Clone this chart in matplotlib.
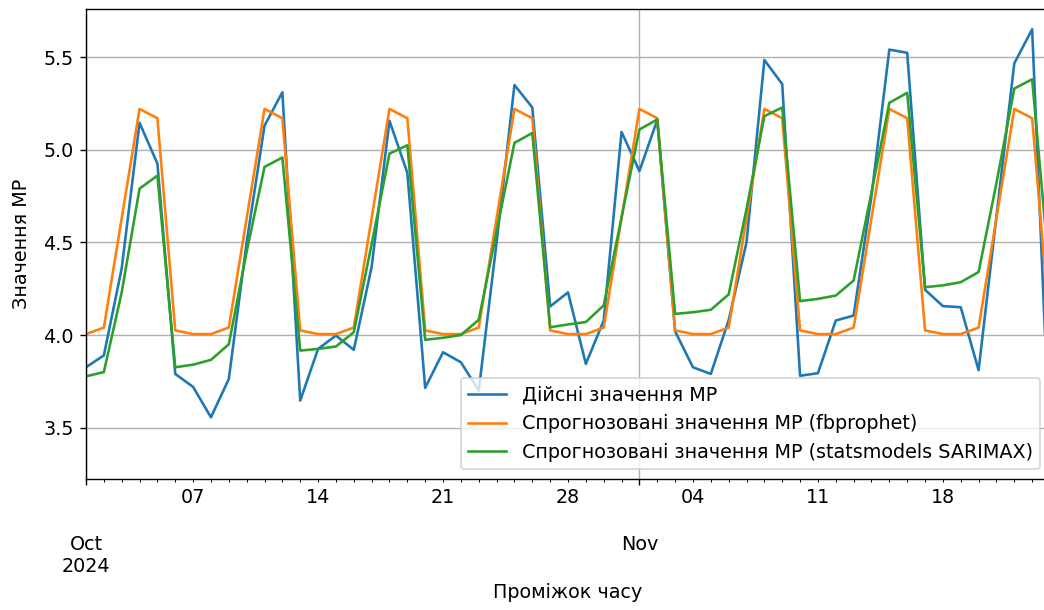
import matplotlib
matplotlib.use("Agg")
import matplotlib.pyplot as plt
import pandas as pd

start_date = "2024-10-01"

actual = [3.826, 3.89, 4.36, 5.145, 4.925, 3.79, 3.72, 3.556, 3.763, 4.50,
          5.13, 5.31, 3.646, 3.925, 3.997, 3.92, 4.367, 5.156, 4.875, 3.715,
          3.907, 3.853, 3.70, 4.50, 5.349, 5.228, 4.154, 4.23, 3.844, 4.078,
          5.096, 4.885, 5.16, 4.02, 3.826, 3.79, 4.08, 4.50, 5.484, 5.354,
          3.78, 3.794, 4.078, 4.105, 4.75, 5.54, 5.523, 4.244, 4.156, 4.15,
          3.81, 4.64, 5.466, 5.65, 3.36]

prophet = [4.005, 4.04, 4.63, 5.22, 5.17, 4.025, 4.005, 4.005, 4.04, 4.63,
           5.22, 5.17, 4.025, 4.005, 4.005, 4.04, 4.63, 5.22, 5.17, 4.025,
           4.005, 4.005, 4.04, 4.63, 5.22, 5.17, 4.025, 4.005, 4.005, 4.04,
           4.63, 5.22, 5.17, 4.025, 4.005, 4.005, 4.04, 4.63, 5.22, 5.17,
           4.025, 4.005, 4.005, 4.04, 4.63, 5.22, 5.17, 4.025, 4.005, 4.005,
           4.04, 4.63, 5.22, 5.17, 4.025]

sarimax = [3.777, 3.80, 4.23, 4.79, 4.86, 3.826, 3.84, 3.866, 3.95, 4.45,
           4.907, 4.958, 3.916, 3.925, 3.938, 4.015, 4.49, 4.979, 5.024, 3.974,
           3.985, 4.0, 4.082, 4.56, 5.037, 5.09, 4.042, 4.057, 4.07, 4.16,
           4.635, 5.109, 5.163, 4.114, 4.123, 4.136, 4.219, 4.68, 5.181, 5.228,
           4.183, 4.195, 4.213, 4.294, 4.77, 5.253, 5.307, 4.258, 4.268, 4.285,
           4.34, 4.82, 5.33, 5.38, 4.30]

labels = ["Дійсні значення МР",
          "Спрогнозовані значення МР (fbprophet)",
          "Спрогнозовані значення МР (statsmodels SARIMAX)"]

plt.rcParams["font.size"] = 11

dates = pd.date_range(start_date, periods=len(actual), freq="D")
df = pd.DataFrame({labels[0]: actual, labels[1]: prophet, labels[2]: sarimax},
                  index=dates)

fig = plt.figure(figsize=(1044 / 125, 610 / 125), dpi=125)
ax = fig.add_axes([86 / 1044, 1 - 479 / 610, (1050 - 86) / 1044, (479 - 8.5) / 610])
df.plot(ax=ax, color=["#1f77b4", "#ff7f0e", "#2ca02c"], linewidth=1.5)
ax.set_ylim(3.223, 5.762)
ax.grid(True)
ax.set_xlabel("Проміжок часу")
ax.set_ylabel("Значення МР", labelpad=7)
ax.legend(loc="lower right")

fig.savefig("out.png", dpi=125)
